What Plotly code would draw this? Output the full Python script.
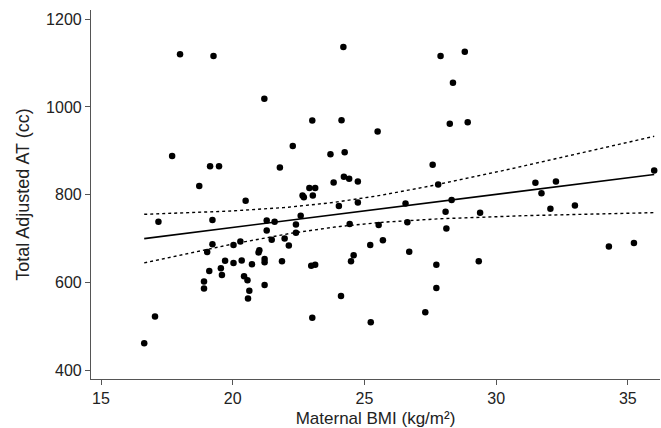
import numpy as np
import plotly.graph_objects as go

# Maternal BMI (kg/m²)
bmi = [16.64, 17.05, 17.18, 17.70, 18.00, 18.73, 18.91, 18.91, 19.03, 19.11,
       19.14, 19.23, 19.23, 19.27, 19.48, 19.55, 19.59, 19.71, 20.03, 20.03,
       20.29, 20.34, 20.43, 20.49, 20.56, 20.58, 20.63, 20.73, 20.98, 21.01,
       21.21, 21.21, 21.21, 21.20, 21.29, 21.29, 21.48, 21.59, 21.79, 21.87,
       21.97, 22.13, 22.28, 22.40, 22.40, 22.58, 22.65, 22.70, 22.91, 23.13,
       22.98, 23.13, 23.02, 23.04, 23.02, 23.71, 23.83, 24.03, 24.11, 24.13,
       24.20, 24.22, 24.25, 24.42, 24.44, 24.49, 24.59, 24.75, 24.75, 25.22,
       25.24, 25.50, 25.54, 25.70, 26.56, 26.63, 26.70, 27.31, 27.59, 27.73,
       27.73, 27.80, 27.89, 28.08, 28.11, 28.24, 28.31, 28.36, 28.81, 28.92,
       29.34, 29.39, 31.49, 31.72, 32.06, 32.27, 32.99, 34.28, 35.23, 36.00]

# Total Adjusted AT (cc)
at = [461, 522, 738, 888, 1120, 820, 602, 586, 669, 626,
      865, 742, 687, 1116, 865, 632, 617, 649, 685, 644,
      693, 650, 614, 786, 605, 563, 581, 641, 668, 673,
      594, 653, 646, 1019, 741, 718, 697, 738, 862, 648,
      700, 684, 911, 732, 713, 752, 798, 794, 815, 815,
      638, 640, 969, 798, 519, 892, 828, 774, 569, 970,
      1137, 841, 897, 836, 733, 648, 662, 830, 782, 685,
      509, 944, 731, 696, 780, 737, 670, 532, 868, 640,
      587, 823, 1116, 761, 723, 962, 788, 1055, 1126, 965,
      648, 759, 827, 803, 768, 830, 775, 682, 690, 855]

x_ticks = [15, 20, 25, 30, 35]
y_ticks = [400, 600, 800, 1000, 1200]

x = np.array(bmi, dtype=float)
y = np.array(at, dtype=float)
n = len(x)
slope, intercept = np.polyfit(x, y, 1)
xs = np.linspace(x.min(), x.max(), 100)
fit = intercept + slope * xs
resid = y - (intercept + slope * x)
s = np.sqrt(np.sum(resid ** 2) / (n - 2))
sxx = np.sum((x - x.mean()) ** 2)
tval = 1.984
half = tval * s * np.sqrt(1.0 / n + (xs - x.mean()) ** 2 / sxx)

font = "Liberation Sans, Arial, sans-serif"

fig = go.Figure()
fig.add_trace(go.Scatter(x=xs, y=fit + half, mode="lines",
                         line=dict(color="black", width=1.4, dash="dot"),
                         hoverinfo="skip", showlegend=False))
fig.add_trace(go.Scatter(x=xs, y=fit - half, mode="lines",
                         line=dict(color="black", width=1.4, dash="dot"),
                         hoverinfo="skip", showlegend=False))
fig.add_trace(go.Scatter(x=xs, y=fit, mode="lines",
                         line=dict(color="black", width=1.6),
                         hoverinfo="skip", showlegend=False))
fig.add_trace(go.Scatter(x=bmi, y=at, mode="markers",
                         marker=dict(color="black", size=6.5),
                         cliponaxis=False, showlegend=False))

fig.update_layout(
    width=661, height=428,
    margin=dict(l=91, r=1, t=10, b=49),
    paper_bgcolor="white", plot_bgcolor="white",
    font=dict(family=font, color="#222"),
    xaxis=dict(range=[14.62, 36.22], tickvals=x_ticks, ticktext=[str(v) for v in x_ticks],
               showline=True, linecolor="#555", linewidth=1.2,
               ticks="outside", ticklen=5, tickcolor="#555", tickwidth=1,
               showgrid=False, zeroline=False, automargin=False,
               tickfont=dict(size=16, color="#222"),
               title=dict(text="Maternal BMI (kg/m²)", font=dict(size=17, color="#222"), standoff=6)),
    yaxis=dict(range=[379.5, 1221.2], tickvals=y_ticks, ticktext=[str(v) for v in y_ticks],
               showline=True, linecolor="#555", linewidth=1.2,
               ticks="outside", ticklen=5, tickcolor="#555", tickwidth=1,
               showgrid=False, zeroline=False, automargin=False,
               tickfont=dict(size=16, color="#222"),
               title=dict(text="Total Adjusted AT (cc)", font=dict(size=18, color="#222"), standoff=11)),
)

fig.write_html("out.html", config={"displayModeBar": False},
               post_script="document.body.style.margin='0';")
